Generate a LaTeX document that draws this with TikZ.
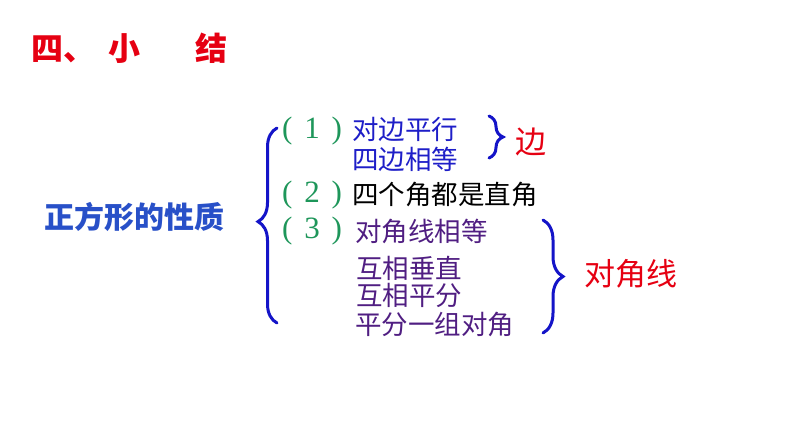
\documentclass[tikz,border=0pt]{standalone}
\usepackage{fontspec}
\setmainfont{Noto Sans CJK SC}
\newfontfamily\numfont{Liberation Serif}
\usetikzlibrary{decorations.pathreplacing}
\definecolor{titlered}{RGB}{230,0,18}
\definecolor{headblue}{RGB}{40,80,200}
\definecolor{braceblue}{RGB}{20,20,200}
\definecolor{txtblue}{RGB}{30,30,200}
\definecolor{numgreen}{RGB}{30,150,90}
\definecolor{txtpurple}{RGB}{80,30,130}
\tikzset{
  lbl/.style={anchor=west,inner sep=0pt,font=\fontsize{26.5}{26.5}\selectfont},
  numlbl/.style={anchor=west,inner sep=0pt,font=\fontsize{31}{31}\numfont,text=numgreen},
  big/.style={anchor=west,inner sep=0pt,font=\fontsize{31}{31}\selectfont,text=titlered},
  bracepath/.style={draw=braceblue,line width=3pt,line cap=round,decorate},
}
\newcommand{\pnum}[1]{(\hspace{0.38em}#1\hspace{0.38em})}
\begin{document}
\begin{tikzpicture}[x=1pt,y=-1pt]
\fill[white] (0,0) rectangle (794,447);
\useasboundingbox (0,0) rectangle (794,447);
\node[anchor=west,inner sep=0pt,font=\fontsize{32}{32}\selectfont\bfseries,text=titlered] (title) at (31,48) {四、\hspace{13pt}小\hspace{55pt}结};
\node[anchor=west,inner sep=0pt,font=\fontsize{30}{30}\selectfont\bfseries,text=headblue] (head) at (44,217) {正方形的性质};
% left brace
\coordinate (lbb) at (277,323);
\coordinate (lbt) at (277,128);
\draw[bracepath,decoration={brace,amplitude=19pt,aspect=0.52}] (lbb) -- (lbt);
% items
\node[numlbl] (n1) at (282,131) {\pnum{1}};
\node[lbl,text=txtblue] (t1a) at (352,129) {对边平行};
\node[lbl,text=txtblue] (t1b) at (352,159) {四边相等};
\node[numlbl] (n2) at (282,195) {\pnum{2}};
\node[lbl,text=black] (t2) at (352,194) {四个角都是直角};
\node[numlbl] (n3) at (282,231) {\pnum{3}};
\node[lbl,text=txtpurple] (t3a) at (355,231) {对角线相等};
\node[lbl,text=txtpurple] (t3b) at (356,268) {互相垂直};
\node[lbl,text=txtpurple] (t3c) at (356,295) {互相平分};
\node[lbl,text=txtpurple] (t3d) at (355,324) {平分一组对角};
% small brace
\coordinate (sbt) at (489,116);
\coordinate (sbb) at (489,158);
\draw[bracepath,decoration={brace,amplitude=14pt,aspect=0.5}] (sbt) -- (sbb);
\node[big] (e) at (515,142) {边};
% right brace
\coordinate (rbt) at (543,220);
\coordinate (rbb) at (543,333);
\draw[bracepath,decoration={brace,amplitude=20pt,aspect=0.5}] (rbt) -- (rbb);
\node[big] (d) at (584,274) {对角线};
\end{tikzpicture}
\end{document}
